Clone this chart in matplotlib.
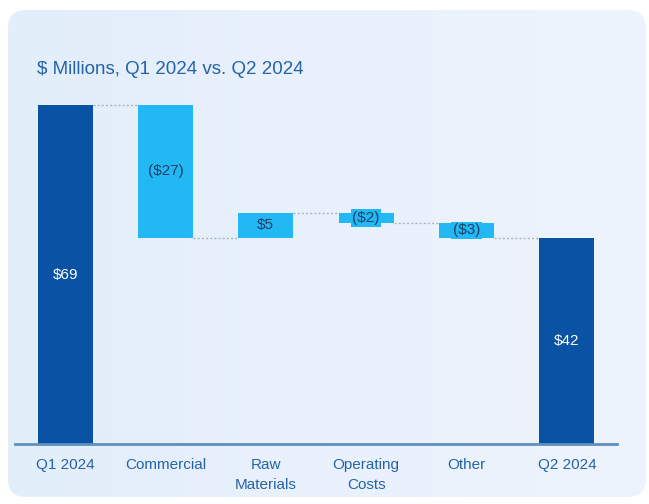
import numpy as np
import matplotlib
matplotlib.use("Agg")
import matplotlib.pyplot as plt
from matplotlib.patches import FancyBboxPatch

plt.rcParams['font.family'] = ['Liberation Sans', 'DejaVu Sans']

categories = ["Q1 2024", "Commercial", "Raw\nMaterials", "Operating\nCosts", "Other", "Q2 2024"]
changes = [69, -27, 5, -2, -3, 42]
labels = ["$69", "($27)", "$5", "($2)", "($3)", "$42"]
is_total = [True, False, False, False, False, True]

dark = "#0a52a3"
light = "#22b8f4"
text_blue = "#2563a8"

fig = plt.figure(figsize=(6.49, 5.04), dpi=100)
fig.patch.set_facecolor("white")

# card background with a soft left-to-right gradient
bg = fig.add_axes([0, 0, 1, 1], zorder=0)
bg.set_xlim(0, 649)
bg.set_ylim(504, 0)
bg.axis("off")
card = FancyBboxPatch((8, 10), 638, 487, boxstyle="round,pad=0,rounding_size=18",
                      linewidth=0, facecolor="none")
bg.add_patch(card)
grad = np.linspace(0, 1, 256).reshape(1, -1)
cmap = matplotlib.colors.LinearSegmentedColormap.from_list("card", ["#e3eefb", "#eef4fd"])
im = bg.imshow(grad, extent=[8, 646, 497, 10], cmap=cmap, aspect="auto")
im.set_clip_path(card)

fig.text(37 / 649, 1 - 70 / 504, "$ Millions, Q1 2024 vs. Q2 2024", fontsize=13.5,
         color=text_blue, va="center", ha="left")

ax = fig.add_axes([15 / 649, 60 / 504, 602 / 649, 339 / 504], zorder=1)
ax.patch.set_alpha(0)

x = np.arange(len(categories))
bottoms, heights = [], []
running = 0
for chg, tot in zip(changes, is_total):
    if tot:
        bottoms.append(0)
        heights.append(chg)
        running = chg
    else:
        lo = min(running, running + chg)
        bottoms.append(lo)
        heights.append(abs(chg))
        running += chg

colors = [dark if t else light for t in is_total]
ax.bar(x, heights, bottom=bottoms, width=0.55, color=colors, zorder=2)

# dotted connectors between consecutive bars
running = 0
levels = []
for chg, tot in zip(changes, is_total):
    running = chg if tot else running + chg
    levels.append(running)
for i in range(len(x) - 1):
    ax.plot([x[i] + 0.275, x[i + 1] - 0.275], [levels[i], levels[i]], ls=(0, (1.5, 1.5)),
            color="#a9b4c0", lw=1, zorder=1, clip_on=False)

for i, (b, h, lab, tot) in enumerate(zip(bottoms, heights, labels, is_total)):
    cy = b + h / 2
    if tot:
        ax.text(x[i], cy, lab, ha="center", va="center", color="white", fontsize=11, zorder=3)
    elif h < 6:
        ax.text(x[i], cy, lab, ha="center", va="center", color="#1d3f66", fontsize=11, zorder=3,
                bbox=dict(boxstyle="square,pad=0.1", facecolor=light, edgecolor="none"))
    else:
        ax.text(x[i], cy, lab, ha="center", va="center", color="#1d3f66", fontsize=11, zorder=3)

ax.set_xlim(-0.5, 5.5)
ax.set_ylim(0, 69)
ax.set_xticks(x)
ax.set_xticklabels(categories, fontsize=11, color=text_blue, linespacing=1.55)
ax.tick_params(axis="x", length=0, pad=10)
ax.set_yticks([])
for s in ["top", "right", "left"]:
    ax.spines[s].set_visible(False)
ax.spines["bottom"].set_color("#5f8fc0")
ax.spines["bottom"].set_linewidth(2)

fig.savefig("out.png", dpi=100)
